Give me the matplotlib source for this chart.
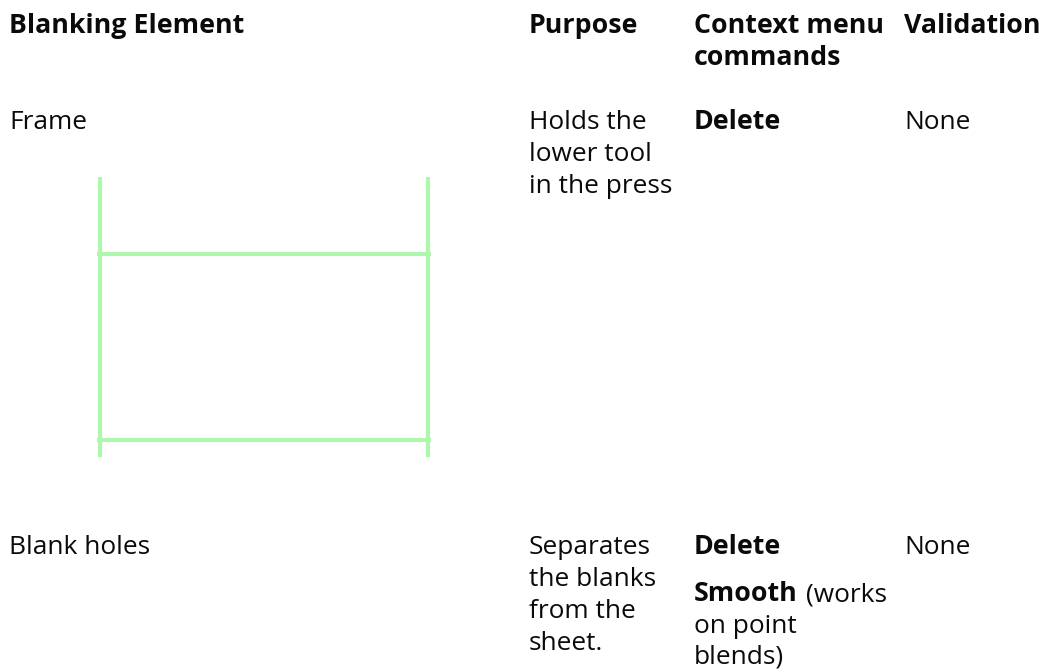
import matplotlib
matplotlib.use('Agg')
import matplotlib.pyplot as plt

W, H = 1046, 670
headers = [(9, 'Blanking Element'), (529, 'Purpose'), (694, 'Context menu'), (904, 'Validation')]
bold_texts = [(694, 65, 'commands'), (694, 129, 'Delete'), (694, 554, 'Delete'), (694, 601, 'Smooth')]
plain_texts = [(9, 129, 'Frame'), (529, 129, 'Holds the'), (529, 161, 'lower tool'), (529, 193, 'in the press'),
               (904, 129, 'None'), (9, 554, 'Blank holes'), (529, 554, 'Separates'), (529, 586, 'the blanks'),
               (529, 618, 'from the'), (529, 650, 'sheet.'), (904, 554, 'None'), (806, 601, '(works'),
               (694, 633, 'on point'), (694, 664, 'blends)')]
vlines = [(99.5, 177, 457), (428, 177, 457)]
hlines = [(254, 97, 431), (440, 97, 431)]

fig = plt.figure(figsize=(W/100, H/100), dpi=100)
ax = fig.add_axes([0, 0, 1, 1])
ax.set_xlim(0, W); ax.set_ylim(H, 0); ax.axis('off')
fam = ['Open Sans', 'DejaVu Sans']
fs_plain = 18.9
fs_bold = 19.3
col = '#0a0a0a'
for x, t in headers:
    ax.text(x, 33, t, fontsize=fs_bold, fontweight='bold', family=fam, va='baseline', color=col)
for x, y, t in bold_texts:
    ax.text(x, y, t, fontsize=fs_bold, fontweight='bold', family=fam, va='baseline', color=col)
for x, y, t in plain_texts:
    ax.text(x, y, t, fontsize=fs_plain, family=fam, va='baseline', color=col)
lc = '#aef8ae'
for x, y0, y1 in vlines:
    ax.plot([x, x], [y0, y1], color=lc, lw=3.0, solid_capstyle='butt')
for y, x0, x1 in hlines:
    ax.plot([x0, x1], [y, y], color=lc, lw=3.0, solid_capstyle='butt')
fig.savefig('out.png', dpi=100)
